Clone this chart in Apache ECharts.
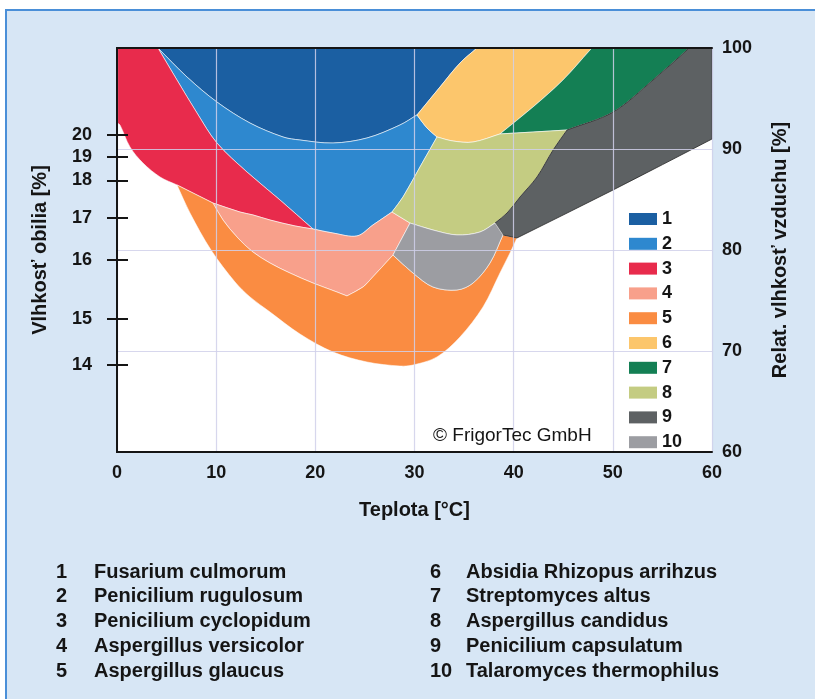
<!DOCTYPE html>
<html><head><meta charset="utf-8">
<script src="https://cdn.jsdelivr.net/npm/echarts@6/dist/echarts.min.js"></script>
<style>html,body{margin:0;padding:0;background:#fff}#c{width:815px;height:699px}</style>
</head><body><div id="c"></div><script>
// ---------- data ----------
const speciesIds = ['1','2','3','4','5','6','7','8','9','10'];
const speciesNames = ['Fusarium culmorum','Penicilium rugulosum','Penicilium cyclopidum','Aspergillus versicolor','Aspergillus glaucus',
  'Absidia Rhizopus arrihzus','Streptomyces altus','Aspergillus candidus','Penicilium capsulatum','Talaromyces thermophilus'];
const tempTicks = [0,10,20,30,40,50,60];
const rhTicks = [60,70,80,90,100];
const moistureLabels = ['14','15','16','17','18','19','20'];
const moistureAtRH = [68.6, 73.2, 79.0, 83.2, 86.9, 89.2, 91.4];

// region boundaries: [temperature °C, relative humidity %]
const region1 = [[4.13,100],[36.30,100],[34.59,98.51],[32.57,96.14],[30.25,93.37],[28.54,92.38],[25.21,91.09],[21.78,90.59],
  [18.45,90.89],[16.74,91.19],[13.41,92.57],[10.08,94.65],[7.06,97.13]];
const region2 = [[4.13,100],[7.06,97.13],[10.08,94.65],[13.41,92.57],[16.74,91.19],[18.45,90.89],[21.78,90.59],[25.21,91.09],
  [28.54,92.38],[30.25,93.37],[31.26,92.08],[32.27,91.19],[30.55,88.22],[28.84,85.25],[27.73,83.76],[25.81,82.48],[24.20,81.39],
  [21.78,81.68],[19.76,82.08],[16.44,84.95],[13.11,87.72],[10.08,90.59],[8.07,93.56],[6.05,96.83]];
const region3 = [[0,100],[4.13,100],[6.05,96.83],[8.07,93.56],[10.08,90.59],[13.11,87.72],[16.44,84.95],[19.76,82.08],
  [17.95,82.38],[15.43,82.97],[13.71,83.47],[12.40,83.76],[9.68,84.65],[7.87,85.54],[6.05,86.44],[4.34,87.23],[2.62,88.61],
  [1.31,90.20],[0.3,92.38],[0,92.6]];
const region4 = [[9.68,84.65],[12.40,83.76],[13.71,83.47],[15.43,82.97],[17.95,82.38],[19.76,82.08],[21.78,81.68],[24.20,81.39],
  [25.81,82.48],[27.73,83.76],[29.55,82.67],[27.83,79.50],[25.51,77.03],[24.81,76.34],[23.19,75.45],[22.18,75.84],[19.76,76.73],
  [17.44,77.72],[15.43,78.71],[13.71,79.80],[12.10,81.29],[10.69,82.97]];
const region5 = [[6.05,86.44],[7.36,83.66],[9.48,80.00],[11.90,76.83],[13.41,75.35],[15.43,73.86],[18.45,71.68],[21.78,69.90],
  [25.21,68.91],[28.54,68.51],[29.85,68.61],[32.27,69.41],[34.59,71.39],[36.91,74.36],[38.62,77.72],[39.63,79.70],[40.33,81.19],
  [38.92,81.49],[37.61,78.71],[35.90,76.73],[34.28,76.04],[31.86,76.34],[29.85,77.72],[27.83,79.50],[25.51,77.03],[24.81,76.34],
  [23.19,75.45],[22.18,75.84],[19.76,76.73],[17.44,77.72],[15.43,78.71],[13.71,79.80],[12.10,81.29],[10.69,82.97],[9.68,84.65],
  [7.87,85.54]];
const region6 = [[36.30,100],[47.90,100],[47.70,99.8],[44.97,96.83],[41.95,94.16],[38.62,91.49],[35.90,90.69],[33.88,90.79],
  [32.27,91.19],[31.26,92.08],[30.25,93.37],[32.57,96.14],[34.59,98.51]];
const region7 = [[47.90,100],[57.48,100],[57.48,99.8],[54.05,96.83],[50.02,93.66],[45.38,91.88],[41.95,91.68],[38.62,91.49],
  [41.95,94.16],[44.97,96.83],[47.70,99.8]];
const region8 = [[32.27,91.19],[33.88,90.79],[35.90,90.69],[38.62,91.49],[41.95,91.68],[45.38,91.88],[43.97,89.90],[42.35,87.23],
  [40.64,85.25],[39.33,83.66],[38.12,82.67],[36.60,81.78],[34.28,81.49],[31.86,81.98],[29.55,82.67],[27.73,83.76],[28.84,85.25],
  [30.55,88.22]];
const region9 = [[57.48,100],[60,100],[60,90.99],[50.02,85.94],[40.33,81.19],[38.92,81.49],[38.12,82.67],[39.33,83.66],
  [40.64,85.25],[42.35,87.23],[43.97,89.90],[45.38,91.88],[50.02,93.66],[54.05,96.83],[57.48,99.8]];
const region10 = [[29.55,82.67],[31.86,81.98],[34.28,81.49],[36.60,81.78],[38.12,82.67],[38.92,81.49],[37.61,78.71],[35.90,76.73],
  [34.28,76.04],[31.86,76.34],[29.85,77.72],[27.83,79.50]];
// points where boundaries meet (kept as sharp corners)
const junctions = [[0,100],[4.13,100],[36.30,100],[47.90,100],[57.48,100],[60,100],[47.70,99.8],[57.48,99.8],[60,90.99],[0,92.6],
  [30.25,93.37],[32.27,91.19],[38.62,91.49],[45.38,91.88],[27.73,83.76],[29.55,82.67],[38.12,82.67],[38.92,81.49],[40.33,81.19],
  [27.83,79.50],[19.76,82.08],[9.68,84.65],[6.05,86.44],[23.19,75.45]];

// ---------- styling ----------
const palette = ['#1b5fa2','#2e88cf','#e82b4c','#f8a08b','#fa8c42','#fcc66c','#147f54','#c4cc82','#5d6163','#9c9da2'];
const SANS = "'Liberation Sans',Arial,sans-serif";
const INK = '#151515';
const GRIDC = 'rgba(208,208,234,0.85)';
const TICKFONT = {fontFamily:SANS, fontSize:18, fontWeight:'bold', color:INK};

const regions = [region1,region2,region3,region4,region5,region6,region7,region8,region9,region10];
const chart = echarts.init(document.getElementById('c'), null, {renderer:'canvas'});

function isJunction(p){
  return junctions.some(j => Math.abs(j[0]-p[0]) < 1e-6 && Math.abs(j[1]-p[1]) < 1e-6);
}

const series = regions.map((pts, i) => ({
  type: 'custom', name: speciesIds[i], coordinateSystem: 'cartesian2d', xAxisIndex: 0, yAxisIndex: 0,
  silent: true, itemStyle: {color: palette[i]}, data: [pts[0]],
  renderItem: (params, api) => {
    const out = [];
    pts.forEach(p => { const c = api.coord(p); out.push(c); if (isJunction(p)) out.push(c.slice()); });
    return {
      type: 'polygon',
      shape: {points: out, smooth: 0.33},
      style: {fill: palette[i], stroke: i === 8 ? 'rgba(40,40,40,0.8)' : 'rgba(255,255,255,0.55)', lineWidth: 1}
    };
  }
}));

function moistureLabel(v){
  let best = 0;
  moistureAtRH.forEach((r, i) => { if (Math.abs(r - v) < Math.abs(moistureAtRH[best] - v)) best = i; });
  return moistureLabels[best];
}

const graphics = [
  {type:'rect', z:-100, silent:true, shape:{x:6, y:10, width:830, height:720},
   style:{fill:'#d7e6f5', stroke:'#4a8fd8', lineWidth:2}},
  {type:'text', x:433, y:436, z:50, style:{text:'\u00a9 FrigorTec GmbH', font:'19px ' + SANS, fill:INK, verticalAlign:'middle', align:'left'}}
];
speciesNames.forEach((name, i) => {
  const col = i < 5 ? 0 : 1;
  const row = i % 5;
  const y = 572 + row * 24.8;
  graphics.push({type:'text', x: col ? 430 : 56, y, style:{text: speciesIds[i], font:'bold 20px ' + SANS, fill:INK, verticalAlign:'middle', align:'left'}});
  graphics.push({type:'text', x: col ? 466 : 94, y, style:{text: name, font:'bold 20px ' + SANS, fill:INK, verticalAlign:'middle', align:'left'}});
});

const option = {
  backgroundColor: '#fff',
  animation: false,
  grid: {left:117, right:103, top:48, bottom:247, show:true, backgroundColor:'#fff', borderWidth:0},
  legend: {
    data: speciesIds, orient:'vertical', left:629, top:209, itemWidth:28, itemHeight:12, itemGap:4.8, padding:0,
    icon:'rect', selectedMode:false,
    textStyle:{fontFamily:SANS, fontSize:18, fontWeight:'bold', color:INK, lineHeight:20}
  },
  xAxis: [
    {type:'value', min:0, max:60, interval:10, position:'bottom', z:10,
     axisLine:{show:true, lineStyle:{color:INK, width:2}}, axisTick:{show:false},
     axisLabel:Object.assign({margin:12, customValues: tempTicks}, TICKFONT),
     splitLine:{show:true, lineStyle:{color:GRIDC, width:1.2}},
     name:'Teplota [°C]', nameLocation:'middle', nameGap:48,
     nameTextStyle:{fontFamily:SANS, fontWeight:'bold', fontSize:20, color:INK}},
    {type:'value', min:0, max:60, position:'top', z:10,
     axisLine:{show:true, lineStyle:{color:INK, width:2}}, axisTick:{show:false}, axisLabel:{show:false}, splitLine:{show:false}}
  ],
  yAxis: [
    {type:'value', min:60, max:100, interval:10, position:'right', z:10,
     axisLine:{show:true, lineStyle:{color:INK, width:2}}, axisTick:{show:false},
     axisLabel:Object.assign({margin:10, customValues: rhTicks}, TICKFONT),
     splitLine:{show:true, lineStyle:{color:GRIDC, width:1.2}},
     name:'Relat. vlhkosť vzduchu [%]', nameLocation:'middle', nameGap:58,
     nameTextStyle:{fontFamily:SANS, fontWeight:'bold', fontSize:20, color:INK}},
    {type:'value', min:60, max:100, position:'left', z:10,
     axisLine:{show:true, lineStyle:{color:INK, width:2}},
     axisTick:{show:true, length:10, customValues: moistureAtRH, lineStyle:{color:INK, width:2}},
     axisLabel:Object.assign({margin:25, customValues: moistureAtRH, formatter: moistureLabel}, TICKFONT),
     splitLine:{show:false},
     name:'Vlhkosť obilia [%]', nameLocation:'middle', nameGap:67,
     nameTextStyle:{fontFamily:SANS, fontWeight:'bold', fontSize:20, color:INK}},
    {type:'value', min:60, max:100, position:'left', z:10,
     axisLine:{show:false},
     axisTick:{show:true, inside:true, length:11, customValues: moistureAtRH, lineStyle:{color:INK, width:2}},
     axisLabel:{show:false}, splitLine:{show:false}}
  ],
  graphic: graphics,
  series: series
};
chart.setOption(option);
</script></body></html>
